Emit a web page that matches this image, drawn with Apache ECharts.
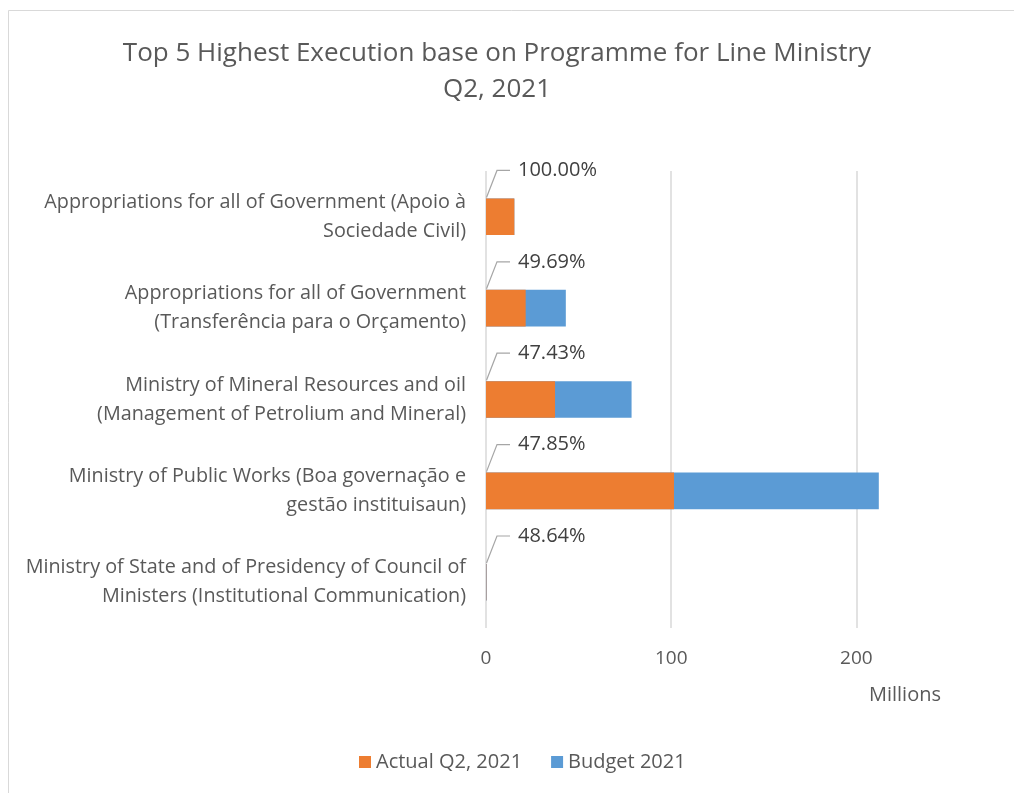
<!DOCTYPE html>
<html>
<head>
<meta charset="utf-8">
<script src="https://cdn.jsdelivr.net/npm/echarts@6/dist/echarts.min.js"></script>
<style>
  html, body { margin: 0; padding: 0; background: #ffffff; }
  #chart { width: 1014px; height: 793px; }
</style>
</head>
<body>
<div id="chart"></div>
<script>
// Programmes (top to bottom)
const categories = [
  'Appropriations for all of Government (Apoio à\nSociedade Civil)',
  'Appropriations for all of Government\n(Transferência para o Orçamento)',
  'Ministry of Mineral Resources and oil\n(Management of Petrolium and Mineral)',
  'Ministry of Public Works (Boa governação e\ngestão instituisaun)',
  'Ministry of State and of Presidency of Council of\nMinisters (Institutional Communication)'
];
// Values in millions
const budget2021 = [15.3, 43.1, 78.6, 212.1, 0.37];
const actualQ2 = [15.3, 21.42, 37.28, 101.5, 0.18];
// Execution rate shown above each bar (%)
const executionRate = [100.00, 49.69, 47.43, 47.85, 48.64];
const xTicks = [0, 100, 200];

const FONT = '"Open Sans", "Noto Sans", sans-serif';
const BAR_FRACTION = 0.4;

const chart = echarts.init(document.getElementById('chart'));

chart.setOption({
  backgroundColor: '#ffffff',
  animation: false,
  title: {
    text: 'Top 5 Highest Execution base on Programme for Line Ministry\nQ2, 2021',
    left: 492,
    top: 31,
    textAlign: 'center',
    textStyle: {
      fontFamily: FONT,
      fontWeight: 'normal',
      fontSize: 26,
      color: '#595959',
      lineHeight: 36
    }
  },
  legend: {
    data: ['Actual Q2, 2021', 'Budget 2021'],
    top: 747,
    left: 354,
    itemWidth: 12,
    itemHeight: 12,
    itemGap: 29,
    icon: 'rect',
    textStyle: { fontFamily: FONT, fontSize: 20, color: '#595959' }
  },
  grid: { left: 486, right: 65, top: 171, bottom: 165 },
  xAxis: {
    type: 'value',
    min: 0,
    max: 250,
    interval: 100,
    name: 'Millions',
    nameLocation: 'end',
    nameGap: -8,
    nameTextStyle: {
      fontFamily: FONT, fontSize: 20, color: '#595959',
      align: 'right', verticalAlign: 'top', padding: [57, 0, 0, 0]
    },
    axisLine: { show: false },
    axisTick: { show: false },
    axisLabel: {
      fontFamily: FONT, fontSize: 19, color: '#595959', margin: 21,
      showMaxLabel: false,
      formatter: v => (xTicks.indexOf(v) >= 0 ? String(v) : '')
    },
    splitLine: { show: true, showMaxLine: false, lineStyle: { color: '#d9d9d9', width: 1.5 } }
  },
  yAxis: {
    type: 'category',
    inverse: true,
    data: categories,
    axisLine: { show: false },
    axisTick: { show: false },
    axisLabel: {
      fontFamily: FONT, fontSize: 19.8, color: '#595959', margin: 20,
      align: 'right', lineHeight: 29
    }
  },
  graphic: [{
    type: 'rect',
    shape: { x: 8.5, y: 10.5, width: 1100, height: 900 },
    style: { fill: 'none', stroke: '#d9d9d9', lineWidth: 1 },
    silent: true,
    z: -10
  }],
  series: [
    {
      name: 'Budget 2021',
      type: 'bar',
      data: budget2021,
      barWidth: (BAR_FRACTION * 100) + '%',
      itemStyle: { color: '#5b9bd5' },
      z: 2
    },
    {
      name: 'Actual Q2, 2021',
      type: 'bar',
      data: actualQ2,
      barWidth: (BAR_FRACTION * 100) + '%',
      barGap: '-100%',
      itemStyle: { color: '#ed7d31' },
      z: 3
    },
    {
      name: 'Execution rate',
      type: 'custom',
      data: executionRate.map((r, i) => [0, i, r]),
      encode: { x: 0, y: 1 },
      z: 5,
      renderItem: function (params, api) {
        const p = api.coord([api.value(0), api.value(1)]);
        const band = api.size([0, 1])[1];
        const top = p[1] - band * BAR_FRACTION / 2;
        const x0 = p[0];
        const ly = top - 28;
        return {
          type: 'group',
          children: [
            {
              type: 'polyline',
              shape: { points: [[x0 + 0.5, top - 1], [x0 + 11, ly], [x0 + 24, ly]] },
              style: { stroke: '#a6a6a6', lineWidth: 1.2, fill: 'none' }
            },
            {
              type: 'text',
              x: x0 + 32,
              y: ly,
              style: {
                text: api.value(2).toFixed(2) + '%',
                fontFamily: FONT,
                fontSize: 20,
                fill: '#404040',
                align: 'left',
                verticalAlign: 'middle'
              }
            }
          ]
        };
      }
    }
  ]
});
</script>
</body>
</html>
